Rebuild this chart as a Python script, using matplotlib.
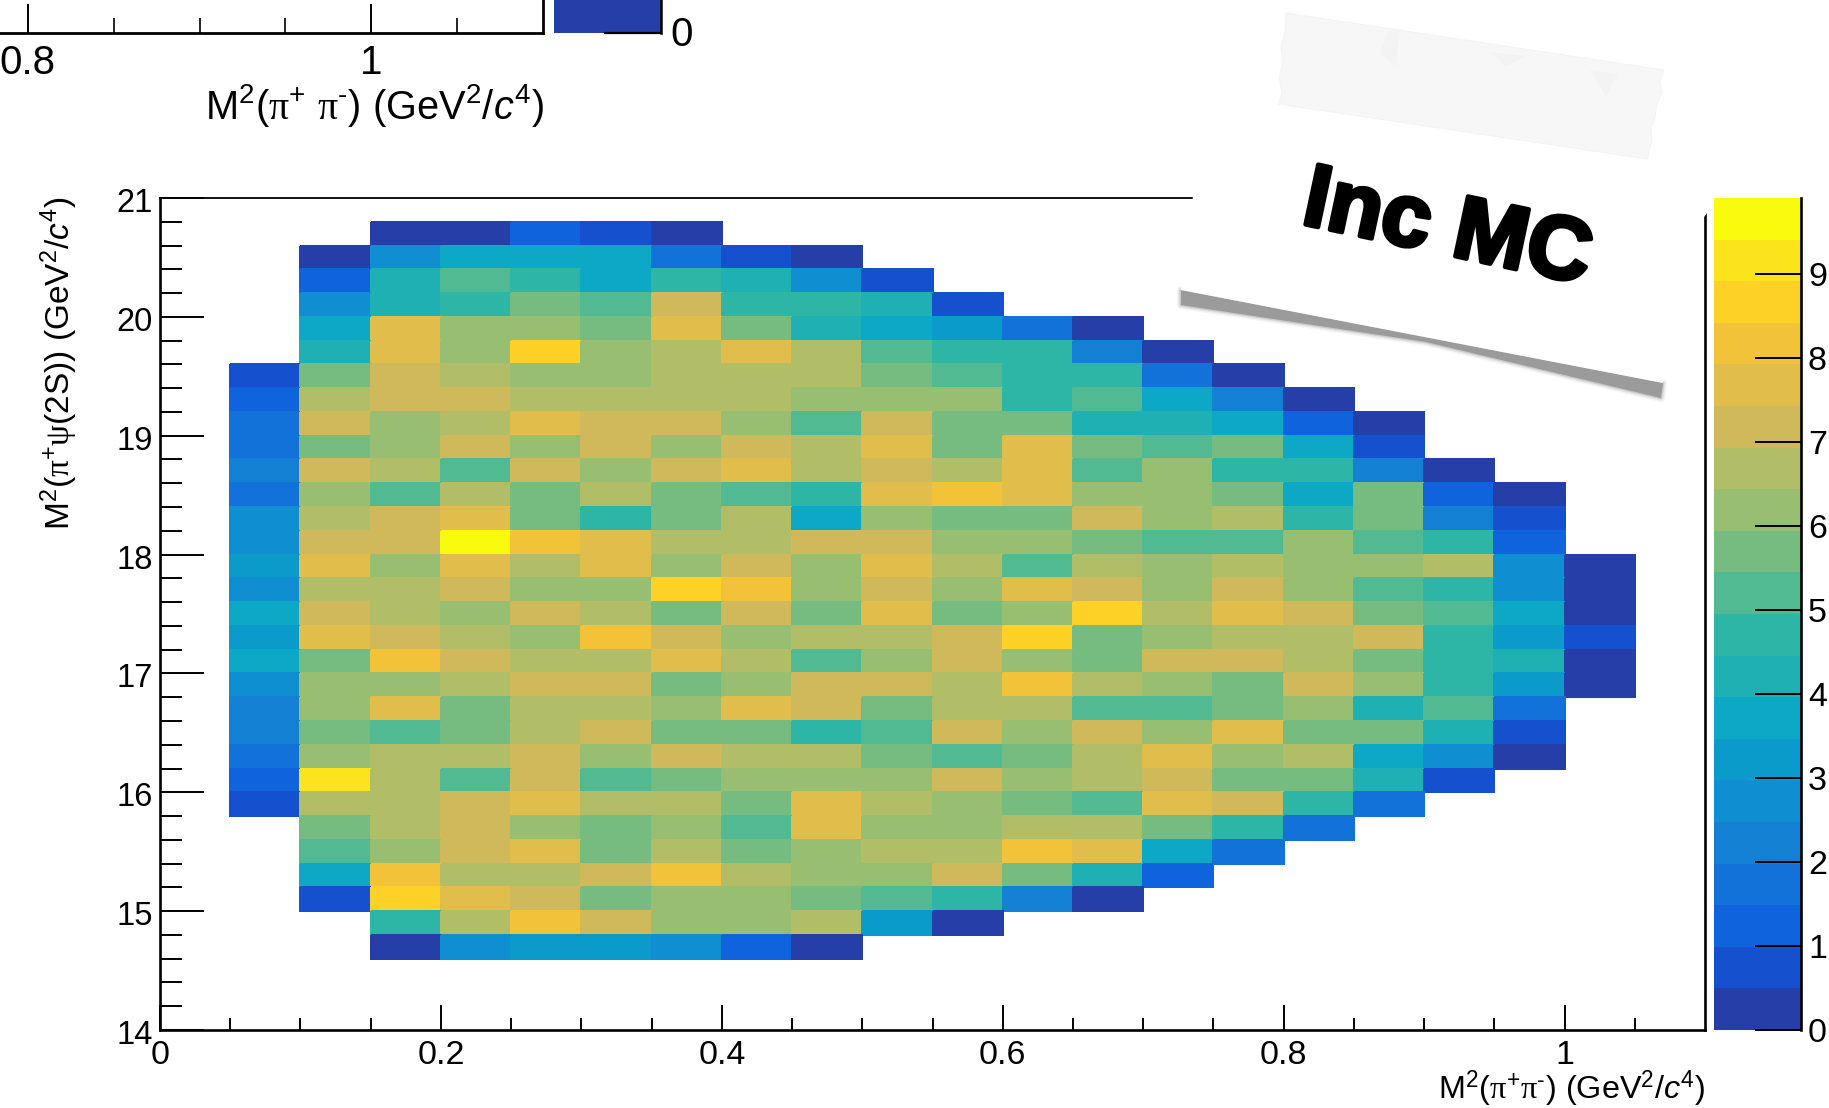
import numpy as np
import matplotlib
matplotlib.use("Agg")
import matplotlib.pyplot as plt
from matplotlib.colors import ListedColormap, Normalize
from matplotlib.patches import Polygon
from matplotlib.ticker import FixedLocator
from matplotlib.transforms import ScaledTranslation
import matplotlib.patheffects as pe

plt.rcParams['font.family'] = ['Liberation Sans', 'DejaVu Sans']
plt.rcParams['mathtext.fontset'] = 'custom'
plt.rcParams['mathtext.rm'] = 'Liberation Sans'
plt.rcParams['mathtext.it'] = 'Liberation Sans:italic'
plt.rcParams['mathtext.bf'] = 'Liberation Sans:bold'
plt.rcParams['mathtext.sf'] = 'Liberation Serif'
plt.rcParams['mathtext.fallback'] = 'stix'

_ = np.nan
# cell contents, one list per row, top row first (y bin upper edge 20.8); first column is x bin 0.05-0.10
z_rows = [
 [_,_,.2,.2,1.2,.7,.2],
 [_,.2,2.7,3.7,3.7,3.7,1.7,.7,.2],
 [_,1.2,4.2,5.2,4.7,3.7,4.7,4.2,2.7,.7],
 [_,2.7,4.2,4.7,5.7,5.2,7.2,4.7,4.7,4.2,.7],
 [_,3.7,7.7,6.2,6.2,5.7,7.7,5.7,4.2,3.7,3.2,1.7,.2],
 [_,4.2,7.7,6.2,8.7,6.2,6.7,7.7,6.7,5.2,4.7,4.7,2.2,.2],
 [.7,5.7,7.2,6.7,6.2,6.2,6.7,6.7,6.7,5.7,5.2,4.7,4.7,1.7,.2],
 [1.2,6.7,7.2,7.2,6.7,6.7,6.7,6.7,6.2,6.2,6.2,4.7,5.2,3.7,2.2,.2],
 [1.7,7.2,6.2,6.7,7.7,7.2,7.2,6.2,5.2,7.2,5.7,5.7,4.2,4.2,3.7,1.2,.2],
 [1.7,5.7,6.2,7.2,6.2,7.2,6.2,7.2,6.7,7.7,5.7,7.7,5.7,5.2,5.7,3.7,.7],
 [2.2,7.2,6.7,5.2,7.2,6.2,7.2,7.7,6.7,7.2,6.7,7.7,5.2,6.2,4.7,4.7,2.2,.2],
 [1.7,6.2,5.2,6.7,5.7,6.7,5.7,5.2,4.7,7.7,8.2,7.7,6.2,6.2,5.7,3.7,5.7,1.2,.2],
 [2.7,6.7,7.2,7.7,5.7,4.7,5.7,6.7,3.7,6.2,5.7,5.7,7.2,6.2,6.7,4.7,5.7,2.2,.7],
 [2.7,7.2,7.2,9.7,8.2,7.7,6.7,6.7,7.2,7.2,6.2,6.2,5.7,5.2,5.2,6.2,5.2,4.7,1.2],
 [3.2,7.7,6.2,7.7,6.7,7.7,6.2,7.2,6.2,7.7,6.7,5.2,6.7,6.2,6.7,6.2,6.2,6.7,2.7,.2],
 [2.7,6.7,6.7,7.2,6.2,6.2,8.7,8.2,6.2,7.2,6.2,7.7,7.2,6.2,7.2,6.2,5.2,4.7,2.7,.2],
 [3.7,7.2,6.7,6.2,7.2,6.7,5.7,7.2,5.7,7.7,5.7,6.2,8.7,6.7,7.7,7.2,5.7,5.2,3.7,.2],
 [3.2,7.7,7.2,6.7,6.2,8.2,7.2,6.2,6.7,6.7,7.2,8.7,5.7,6.2,6.7,6.7,7.2,4.7,3.2,.7],
 [3.7,5.7,8.2,7.2,6.7,6.7,7.7,6.7,5.2,6.2,7.2,6.2,5.7,7.2,7.2,6.7,5.7,4.7,4.2,.2],
 [2.7,6.2,6.2,6.7,7.2,7.2,5.7,6.2,7.2,7.2,6.7,8.2,6.7,6.2,5.7,7.2,6.2,4.7,3.2,.2],
 [2.2,6.2,7.7,5.7,6.7,6.7,6.2,7.7,7.2,5.7,6.7,6.7,5.2,5.2,5.7,6.2,4.2,5.2,1.7],
 [2.2,5.7,5.2,5.7,6.7,7.2,5.7,5.7,4.7,5.2,7.2,6.2,7.2,6.2,7.7,5.7,5.7,4.2,.7],
 [1.7,6.2,6.7,6.7,7.2,6.2,7.2,6.7,6.7,5.7,5.2,5.7,6.7,7.7,6.2,6.7,3.7,2.7,.2],
 [1.2,9.2,6.7,5.2,7.2,5.2,5.7,6.2,6.2,6.2,7.2,6.2,6.7,7.2,5.7,5.7,4.2,.7],
 [.7,6.7,6.7,7.2,7.7,6.7,6.7,5.7,7.7,6.7,6.2,5.7,5.2,7.7,7.2,4.7,1.7],
 [_,5.7,6.7,7.2,6.2,5.7,6.2,5.2,7.7,6.2,6.2,6.7,6.7,5.7,4.7,1.7],
 [_,5.2,6.2,7.2,7.7,5.7,6.7,5.7,6.2,6.7,6.7,8.2,7.7,3.7,1.7],
 [_,3.7,8.2,6.7,6.7,7.2,8.2,6.7,6.2,6.2,7.2,5.7,4.2,1.2],
 [_,.7,8.7,7.7,7.2,5.7,6.2,6.2,5.7,5.2,4.7,2.2,.2],
 [_,_,4.7,6.7,8.2,7.2,6.2,6.2,6.7,3.2,.2],
 [_,_,.2,2.7,3.2,3.2,2.7,1.2,.2],
]
x_edges = [0.05,0.10,0.15,0.20,0.25,0.30,0.35,0.40,0.45,0.50,0.55,0.60,0.65,0.70,
           0.75,0.80,0.85,0.90,0.95,1.00,1.05]
y_edges = [20.8,20.6,20.4,20.2,20.0,19.8,19.6,19.4,19.2,19.0,18.8,18.6,18.4,18.2,18.0,17.8,
           17.6,17.4,17.2,17.0,16.8,16.6,16.4,16.2,16.0,15.8,15.6,15.4,15.2,15.0,14.8,14.6]
z_max = 9.9
palette = ['#263FA8','#1551CE','#0F64DD','#1272D9','#1380D4','#0F8FD2','#0A9BCB','#0DA8C6',
           '#1FB0B3','#2DB6A5','#52BA92','#76BC80','#98BE72','#B2BD68','#CFB95A','#E1BE4B',
           '#F2C339','#FDD126','#FBE41B','#F9F90E']
x_ticks = [0,0.2,0.4,0.6,0.8,1]
x_ticklabels = ['0','0.2','0.4','0.6','0.8','1']
y_ticks = [14,15,16,17,18,19,20,21]
c_ticks = [0,1,2,3,4,5,6,7,8,9]

W, H = 1829, 1108
fig = plt.figure(figsize=(W/100, H/100), dpi=100, facecolor='white')
def rect(l, t, r, b):
    return [l/W, (H-b)/H, (r-l)/W, (b-t)/H]
def shift_y(axis_labels, dots):
    for lab in axis_labels:
        lab.set_transform(lab.get_transform() + ScaledTranslation(0, dots/100, fig.dpi_scale_trans))

Z = np.array([r + [_]*(20-len(r)) for r in z_rows], dtype=float)
ax = fig.add_axes(rect(160, 198, 1705, 1030))
cmap = ListedColormap(palette)
cmap.set_bad((1,1,1,0))
norm = Normalize(0, z_max)
mesh = ax.pcolormesh(x_edges, y_edges, np.ma.masked_invalid(Z), cmap=cmap, norm=norm,
                     edgecolors='face', linewidth=0.2)
ax.set_xlim(0, 1.1)
ax.set_ylim(14, 21)
ax.xaxis.set_major_locator(FixedLocator(x_ticks))
ax.set_xticklabels(x_ticklabels)
ax.xaxis.set_minor_locator(FixedLocator([v/20 for v in range(22) if v % 4]))
ax.yaxis.set_major_locator(FixedLocator(y_ticks))
ax.yaxis.set_minor_locator(FixedLocator([14+v/5 for v in range(36) if v % 5]))
ax.tick_params(axis='x', which='major', direction='in', length=18, width=1.4, labelsize=24.5, pad=7)
ax.tick_params(axis='x', which='minor', direction='in', length=8.6, width=1.4)
ax.tick_params(axis='y', which='major', direction='in', length=32, width=1.4, labelsize=23.5, pad=5)
ax.tick_params(axis='y', which='minor', direction='in', length=16, width=1.4)
shift_y(ax.get_yticklabels(), -2)
for s in ax.spines.values():
    s.set_linewidth(1.9)
ax.spines['top'].set_linewidth(1.3)
fig.text(1705/W, 1-1099/H, r'M$^{2}$($\mathsf{\pi}^{+}\mathsf{\pi}^{‐}$) (GeV$^{2}$/$\mathit{c}^{4}$)',
         ha='right', va='baseline', fontsize=23.3)
fig.text(59/W, 1-363/H, r'M$^{2}$($\mathsf{\pi}^{+}\mathsf{\psi}$(2S)) (GeV$^{2}$/$\mathit{c}^{4}$)',
         ha='center', va='center', rotation=90, fontsize=24)

cax = fig.add_axes(rect(1714, 198, 1801, 1030))
cbar = fig.colorbar(mesh, cax=cax, ticks=c_ticks)
cbar.outline.set_visible(False)
cax.spines['right'].set_visible(True)
cax.spines['right'].set_linewidth(1.9)
cax.tick_params(axis='y', direction='in', length=33, width=1.4, labelsize=24.5, pad=5)

# lower edge of the panel above, cut off by the top of the picture
top_ax = fig.add_axes(rect(-58, -200, 543, 33))
top_ax.set_xlim(0.75, 1.1)
top_ax.set_ylim(0, 1)
top_ax.xaxis.set_major_locator(FixedLocator([0.8, 1]))
top_ax.set_xticklabels(['0.8', '1'])
top_ax.xaxis.set_minor_locator(FixedLocator([0.85, 0.9, 0.95, 1.05]))
top_ax.yaxis.set_visible(False)
top_ax.tick_params(axis='x', which='major', direction='in', length=21, width=1.4, labelsize=29, pad=8)
top_ax.tick_params(axis='x', which='minor', direction='in', length=11, width=1.2)
for k in ('top', 'left'):
    top_ax.spines[k].set_visible(False)
for k in ('bottom', 'right'):
    top_ax.spines[k].set_linewidth(2.0)
top_c = fig.add_axes(rect(554, -200, 661, 33))
top_c.set_facecolor(palette[0])
top_c.set_xlim(0, 1)
top_c.set_ylim(0, 1)
top_c.set_xticks([])
top_c.yaxis.tick_right()
top_c.set_yticks([0])
top_c.set_yticklabels(['0'])
top_c.tick_params(axis='y', direction='in', length=41, width=1.6, labelsize=29, pad=7)
shift_y(top_c.get_yticklabels(), 2)
for k in ('top', 'left', 'bottom'):
    top_c.spines[k].set_visible(False)
top_c.spines['right'].set_linewidth(1.8)
fig.text(544/W, 1-119/H, r'M$^{2}$($\mathsf{\pi}^{+}$ $\mathsf{\pi}^{‐}$) (GeV$^{2}$/$\mathit{c}^{4}$)',
         ha='right', va='baseline', fontsize=28.6)

# pasted note on top of the picture, drawn in pixel coordinates
ov = fig.add_axes([0, 0, 1, 1], zorder=10)
ov.set_xlim(0, W)
ov.set_ylim(H, 0)
ov.axis('off')
ov.patch.set_alpha(0)
shadow = [(1181, 290), (1663, 383), (1661, 398), (1426, 342), (1181, 305)]
for lw, a in ((6, .08), (4, .14), (2, .3)):
    ov.add_patch(Polygon(shadow, closed=True, facecolor='none', edgecolor='#8c8c8c', lw=lw, alpha=a, joinstyle='round'))
ov.add_patch(Polygon(shadow, closed=True, facecolor='#9b9b9b', edgecolor='none'))
ov.add_patch(Polygon([(1181, 290), (1663, 383), (1700, 222), (1708, 212), (1708, 188), (1194, 188)],
                     closed=True, facecolor='white', edgecolor='none'))
tape = [(1286, 13), (1664, 70), (1660, 82), (1662, 92), (1657, 104), (1655, 118), (1651, 128), (1652, 140),
        (1647, 159), (1278, 104), (1282, 92), (1279, 78), (1283, 62), (1281, 48), (1285, 32)]
ov.add_patch(Polygon(tape, closed=True, facecolor='#f7f7f7', edgecolor='#f2f2f2', lw=0.6))
for crease in ([(1388, 32), (1400, 30), (1396, 66), (1380, 54)],
               [(1490, 52), (1526, 56), (1506, 66)],
               [(1590, 70), (1618, 74), (1606, 96)]):
    ov.add_patch(Polygon(crease, closed=True, facecolor='#f1f1f1', edgecolor='none', alpha=0.6))
ov.text(1447, 231, 'Inc MC', rotation=-12, rotation_mode='anchor', ha='center', va='center',
        fontsize=64, fontweight='bold', color='black',
        path_effects=[pe.withStroke(linewidth=3.2, foreground='black')])

fig.savefig('out.png', dpi=100)
